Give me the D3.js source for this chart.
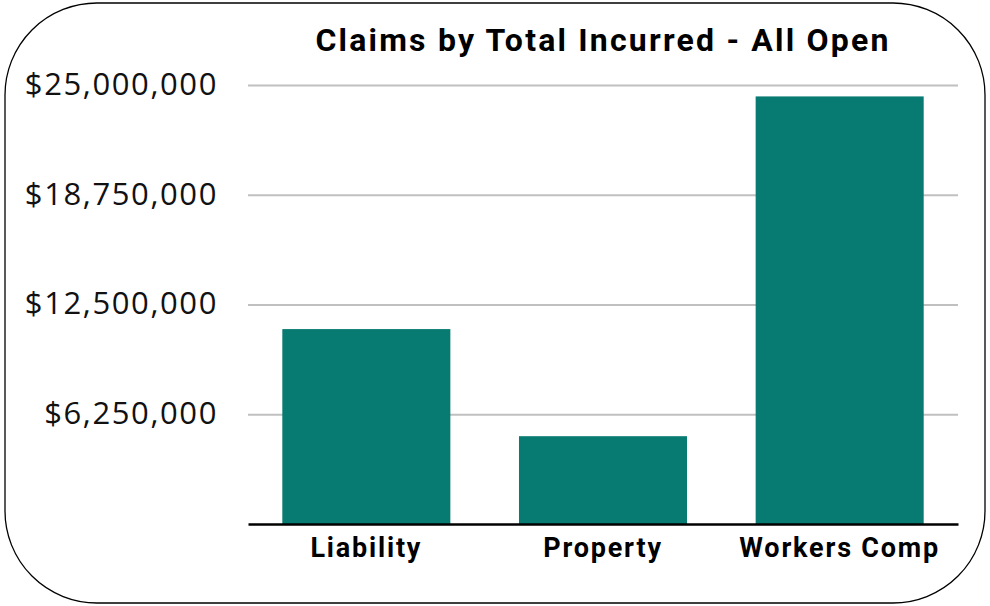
<!DOCTYPE html>
<html><head><meta charset="utf-8">
<script src="https://cdn.jsdelivr.net/npm/d3@7"></script>
<style>html,body{margin:0;padding:0;background:#fff;}</style>
</head><body>
<svg id="chart" width="990" height="606"></svg>
<script>
const categories = ["Liability", "Property", "Workers Comp"];
const values = [11100000, 5000000, 24350000];
const tickValues = [6250000, 12500000, 18750000, 25000000];
const tickLabels = ["$6,250,000", "$12,500,000", "$18,750,000", "$25,000,000"];
const title = "Claims by Total Incurred - All Open";

const svg = d3.select("#chart");
const W = 990, H = 606;
const m = {left: 248, right: 32, top: 85, bottom: 82};

svg.append("rect").attr("x", 5).attr("y", 3).attr("width", 980).attr("height", 600)
  .attr("rx", 92).attr("ry", 92).attr("fill", "#fff").attr("stroke", "#000").attr("stroke-width", 1.3);

const x = d3.scaleBand().domain(categories).range([m.left, W - m.right]).paddingInner(0.29).paddingOuter(0.145);
const y = d3.scaleLinear().domain([0, 25000000]).range([H - m.bottom, m.top]);

// gridlines
const yAxis = d3.axisLeft(y).tickValues(tickValues).tickSize(-(W - m.right - m.left))
  .tickFormat((d, i) => tickLabels[i]).tickPadding(30);
const gy = svg.append("g").attr("transform", `translate(${m.left},0)`).call(yAxis);
gy.select(".domain").remove();
gy.selectAll(".tick line").attr("stroke", "#c0c0c0").attr("stroke-width", 2);
gy.selectAll(".tick text").attr("font-family", "'Open Sans', sans-serif").attr("font-size", 31)
  .attr("letter-spacing", 1.6).attr("fill", "#111").attr("dy", "0.3em");

svg.append("g").selectAll("rect").data(categories).join("rect")
  .attr("x", d => x(d)).attr("width", x.bandwidth())
  .attr("y", (d, i) => y(values[i])).attr("height", (d, i) => y(0) - y(values[i]))
  .attr("fill", "#077a72");

const xAxis = d3.axisBottom(x).tickSize(0).tickPadding(14);
const gx = svg.append("g").attr("transform", `translate(0,${y(0)})`).call(xAxis);
gx.select(".domain").attr("stroke", "#000").attr("stroke-width", 2.5);
gx.selectAll(".tick text").attr("font-family", "Roboto, sans-serif").attr("font-weight", "bold")
  .attr("font-size", 27).attr("letter-spacing", 1.8).attr("fill", "#000");

svg.append("text").attr("x", 603).attr("y", 51).attr("text-anchor", "middle")
  .attr("font-family", "Roboto, sans-serif").attr("font-weight", "bold").attr("font-size", 32)
  .attr("letter-spacing", 2.2).attr("fill", "#000").text(title);
</script>
</body></html>
